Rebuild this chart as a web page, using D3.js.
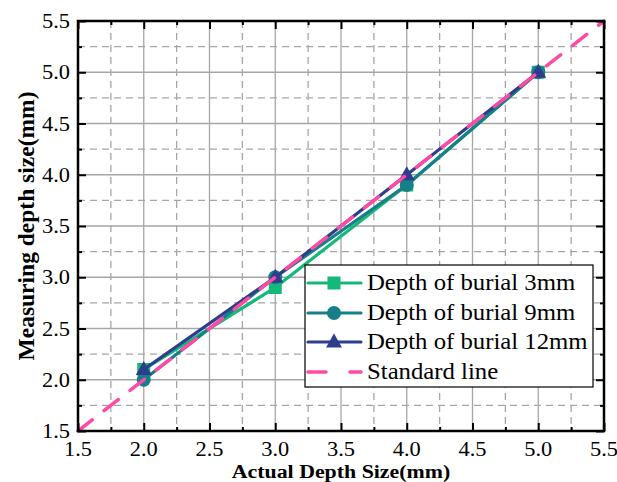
<!DOCTYPE html>
<html>
<head>
<meta charset="utf-8">
<script src="https://cdn.jsdelivr.net/npm/d3@7/dist/d3.min.js"></script>
<style>
  body { margin: 0; background: #fff; }
  svg { display: block; }
</style>
</head>
<body>
<svg id="chart" width="617" height="482"></svg>
<script>
// Actual depth values (mm)
const actualDepth = [2.0, 3.0, 4.0, 5.0];
// Measured depth for each burial depth (mm)
const burial3mm = [2.1, 2.9, 3.9, 5.0];
const burial9mm = [2.0, 3.0, 3.9, 5.0];
const burial12mm = [2.1, 3.0, 4.0, 5.0];
// Reference line y = x
const standardLine = [1.5, 5.5];
const seriesNames = ["Depth of burial 3mm", "Depth of burial 9mm", "Depth of burial 12mm", "Standard line"];
const tickValues = [1.5, 2.0, 2.5, 3.0, 3.5, 4.0, 4.5, 5.0, 5.5];
const minorTickValues = [1.75, 2.25, 2.75, 3.25, 3.75, 4.25, 4.75, 5.25];

const FONT = '"Liberation Serif", serif';
const SX = 1.12; // slightly wide lettering

const svg = d3.select("#chart");
const m = { left: 78, right: 604, top: 21, bottom: 431 };

const x = d3.scaleLinear().domain([1.5, 5.5]).range([m.left, m.right]);
const y = d3.scaleLinear().domain([1.5, 5.5]).range([m.bottom, m.top]);

const colors = ["#14b878", "#177f87", "#2e3d8c", "#ff4aa5"];

// Text helper: places a horizontally widened label at (px, py)
function label(parent, px, py, str, opts) {
  return parent.append("text")
    .attr("transform", `translate(${px},${py}) scale(${opts.sx || SX},1)`)
    .attr("text-anchor", opts.anchor || "start")
    .style("font-family", FONT)
    .style("font-size", opts.size + "px")
    .style("font-weight", opts.weight || "normal")
    .attr("fill", "#000")
    .text(str);
}

// Grid: dashed minor, solid major
const grid = svg.append("g");
const gridColor = "#a6a6a6";
grid.selectAll(".minx").data(minorTickValues).join("line")
  .attr("x1", d => x(d)).attr("x2", d => x(d))
  .attr("y1", m.top).attr("y2", m.bottom)
  .attr("stroke", gridColor).attr("stroke-width", 1.3).attr("stroke-dasharray", "7,5");
grid.selectAll(".miny").data(minorTickValues).join("line")
  .attr("y1", d => y(d)).attr("y2", d => y(d))
  .attr("x1", m.left).attr("x2", m.right)
  .attr("stroke", gridColor).attr("stroke-width", 1.3).attr("stroke-dasharray", "7,5");
grid.selectAll(".majx").data(tickValues.slice(1, -1)).join("line")
  .attr("x1", d => x(d)).attr("x2", d => x(d))
  .attr("y1", m.top).attr("y2", m.bottom)
  .attr("stroke", gridColor).attr("stroke-width", 1.3);
grid.selectAll(".majy").data(tickValues.slice(1, -1)).join("line")
  .attr("y1", d => y(d)).attr("y2", d => y(d))
  .attr("x1", m.left).attr("x2", m.right)
  .attr("stroke", gridColor).attr("stroke-width", 1.3);

// Data series
const lineGen = d3.line().x(d => x(d[0])).y(d => y(d[1]));
const series = [burial3mm, burial9mm, burial12mm];
const plot = svg.append("g");

function drawMarker(g, kind, cx, cy, color) {
  if (kind === 0) {
    g.append("rect").attr("x", cx - 6.5).attr("y", cy - 6.5).attr("width", 13).attr("height", 13).attr("fill", color);
  } else if (kind === 1) {
    g.append("circle").attr("cx", cx).attr("cy", cy).attr("r", 7).attr("fill", color);
  } else {
    g.append("path").attr("d", `M${cx},${cy - 8.5}L${cx + 8},${cy + 5.5}L${cx - 8},${cy + 5.5}Z`).attr("fill", color);
  }
}

series.forEach((vals, i) => {
  const pts = actualDepth.map((a, j) => [a, vals[j]]);
  plot.append("path").attr("d", lineGen(pts)).attr("fill", "none")
    .attr("stroke", colors[i]).attr("stroke-width", 3.2);
  pts.forEach(p => drawMarker(plot, i, x(p[0]), y(p[1]), colors[i]));
});

// Standard line
plot.append("path")
  .attr("d", lineGen(standardLine.map(v => [v, v])))
  .attr("fill", "none").attr("stroke", colors[3]).attr("stroke-width", 3.5)
  .attr("stroke-dasharray", "18,15").attr("stroke-linecap", "round");

// Inward ticks on all four sides
const tickStyle = g => {
  g.selectAll(".domain").remove();
  g.selectAll(".tick line").attr("stroke", "#000").attr("stroke-width", 2);
};
const sides = [
  [d3.axisBottom(x), `translate(0,${m.bottom})`],
  [d3.axisLeft(y), `translate(${m.left},0)`],
  [d3.axisTop(x), `translate(0,${m.top})`],
  [d3.axisRight(y), `translate(${m.right},0)`]
];
sides.forEach(([ax, tr]) => {
  svg.append("g").attr("transform", tr)
    .call(ax.tickValues(tickValues).tickFormat("").tickSizeInner(-8).tickSizeOuter(0))
    .call(tickStyle);
  svg.append("g").attr("transform", tr)
    .call(ax.tickValues(minorTickValues).tickFormat("").tickSizeInner(-4).tickSizeOuter(0))
    .call(tickStyle);
});

// Tick labels
const fmt = d3.format(".1f");
const labels = svg.append("g");
tickValues.forEach(v => {
  label(labels, x(v), 456, fmt(v), { size: 20, anchor: "middle" });
  label(labels, 70, y(v) + 7, fmt(v), { size: 20, anchor: "end" });
});

// Frame
svg.append("rect").attr("x", m.left).attr("y", m.top)
  .attr("width", m.right - m.left).attr("height", m.bottom - m.top)
  .attr("fill", "none").attr("stroke", "#000").attr("stroke-width", 2.5);

// Axis titles
label(svg, 341, 477.5, "Actual Depth Size(mm)", { size: 19, anchor: "middle", weight: "bold", sx: 1.15 });
svg.append("text")
  .attr("transform", `translate(34,226) rotate(-90)`)
  .attr("text-anchor", "middle")
  .style("font-family", FONT)
  .style("font-weight", "bold").style("font-size", "23.5px")
  .text("Measuring depth size(mm)");

// Legend
const lg = svg.append("g");
lg.append("rect").attr("x", 305).attr("y", 265).attr("width", 288).attr("height", 122)
  .attr("fill", "#fff").attr("stroke", "#000").attr("stroke-width", 1.2);
const rowBase = [290, 320, 349, 379];
seriesNames.forEach((name, i) => {
  const yy = rowBase[i] - 7;
  const line = lg.append("line").attr("x1", 308).attr("x2", 361).attr("y1", yy).attr("y2", yy)
    .attr("stroke", colors[i]).attr("stroke-width", 3.2).attr("stroke-linecap", "round");
  if (i < 3) {
    drawMarker(lg, i, 334, yy, colors[i]);
  } else {
    line.attr("stroke-dasharray", "18,24").attr("stroke-width", 3.5);
  }
  label(lg, 367, rowBase[i], name, { size: 22.5, sx: 1.1 });
});
</script>
</body>
</html>
